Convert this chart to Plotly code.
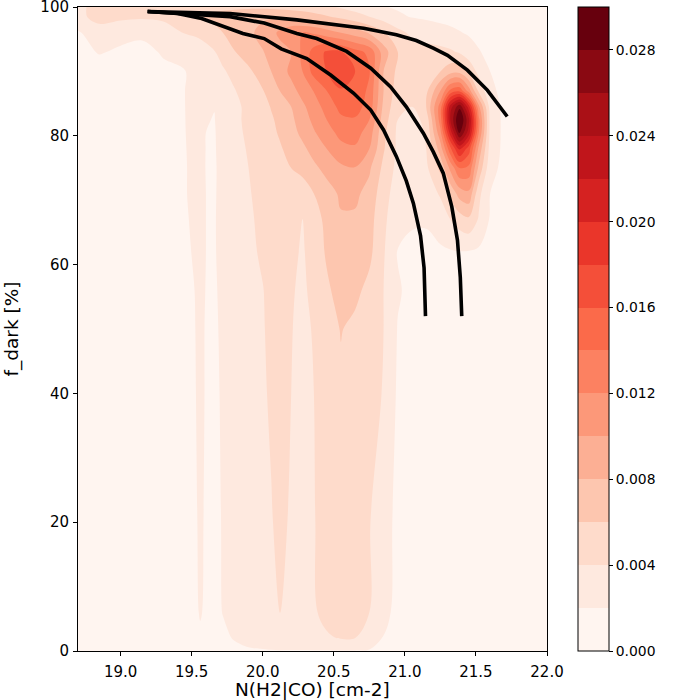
import numpy as np
import plotly.graph_objects as go

# grid columns, N(H2|CO) [cm-2]
X_NODES = [18.70, 18.85, 19.00, 19.15, 19.30, 19.45, 19.52, 19.56, 19.60, 19.66, 19.72, 19.80,
           19.90, 20.00, 20.06, 20.12, 20.20, 20.28, 20.36, 20.45, 20.55, 20.65, 20.75, 20.85,
           20.95, 21.05, 21.15, 21.25, 21.32, 21.385, 21.45, 21.52, 21.60, 21.70, 21.85, 22.00]
# grid rows, f_dark [%]
Y_NODES = [0, 2, 6, 20, 40, 50, 56, 62, 67, 71, 75, 78, 80.5, 82.5, 84.5, 87, 90, 93, 96, 98.5, 100]

# density, in units of 1e-3 (one row per Y_NODES entry)
DENSITY_MILLI = [
  [0.8, 0.8, 0.8, 0.9, 1.0, 1.1, 1.2, 1.3, 1.3, 1.3, 1.4, 1.6, 1.8, 1.85, 1.9, 1.9, 1.9, 1.9,
   1.9, 1.9, 1.9, 1.9, 1.8, 1.5, 1.1, 0.9, 0.8, 0.8, 0.8, 0.8, 0.8, 0.8, 0.8, 0.8, 0.8, 0.8],
  [0.8, 0.8, 0.9, 1.0, 1.1, 1.3, 1.5, 1.8, 1.6, 1.5, 1.7, 2.1, 2.5, 2.8, 3.0, 3.4, 3.1, 3.1,
   3.4, 3.8, 4.1, 4.0, 3.4, 1.9, 1.2, 0.9, 0.8, 0.8, 0.8, 0.8, 0.8, 0.8, 0.8, 0.8, 0.8, 0.8],
  [0.8, 0.9, 1.0, 1.1, 1.2, 1.4, 1.7, 2.1, 1.8, 1.6, 2.05, 2.6, 3.0, 3.3, 3.6, 4.05, 3.6, 3.4,
   3.8, 4.5, 4.9, 4.8, 4.0, 2.6, 1.4, 1.0, 0.9, 0.8, 0.8, 0.8, 0.8, 0.8, 0.8, 0.8, 0.8, 0.8],
  [0.9, 1.0, 1.1, 1.2, 1.3, 1.5, 1.8, 2.2, 1.85, 1.65, 2.1, 2.7, 3.1, 3.5, 3.9, 4.4, 3.8, 3.5,
   3.9, 4.8, 5.1, 5.0, 4.1, 2.8, 1.5, 1.1, 1.0, 0.9, 0.9, 0.9, 0.9, 0.9, 0.9, 0.9, 0.9, 0.9],
  [0.9, 1.0, 1.1, 1.2, 1.3, 1.6, 1.9, 2.3, 1.9, 1.7, 2.2, 2.8, 3.3, 3.8, 4.2, 4.6, 4.0, 3.6,
   4.0, 5.0, 5.6, 5.3, 4.6, 3.9, 1.7, 1.2, 1.0, 0.9, 0.9, 0.9, 0.9, 0.9, 0.9, 0.9, 0.9, 0.9],
  [0.9, 1.0, 1.1, 1.2, 1.35, 1.65, 1.95, 2.3, 1.9, 1.75, 2.3, 2.9, 3.4, 3.9, 4.3, 4.7, 4.05, 3.7,
   4.1, 5.1, 6.1, 5.5, 4.8, 4.0, 1.9, 1.3, 1.1, 1.0, 0.9, 0.9, 0.9, 0.9, 0.9, 0.9, 0.9, 0.9],
  [0.9, 1.0, 1.1, 1.2, 1.4, 1.7, 2.0, 2.4, 1.95, 1.8, 2.4, 3.0, 3.5, 3.95, 4.4, 4.8, 4.1, 3.8,
   4.3, 5.6, 6.9, 6.5, 5.4, 4.0, 2.2, 1.5, 1.3, 1.2, 1.2, 1.2, 1.2, 1.1, 1.0, 1.0, 0.9, 0.9],
  [0.9, 1.0, 1.1, 1.2, 1.5, 1.8, 2.1, 2.4, 2.0, 1.85, 2.6, 3.2, 3.7, 4.2, 4.6, 4.9, 4.3, 3.85,
   4.6, 6.3, 7.4, 7.3, 6.5, 4.2, 1.9, 1.6, 1.5, 1.7, 1.85, 1.95, 1.9, 1.7, 1.4, 1.1, 1.0, 0.9],
  [0.9, 1.0, 1.1, 1.25, 1.55, 1.85, 2.2, 2.5, 2.0, 1.85, 2.7, 3.3, 3.8, 4.3, 4.7, 5.0, 4.5, 3.95,
   5.0, 6.6, 7.8, 7.7, 6.8, 4.4, 2.7, 2.2, 2.2, 3.0, 4.0, 5.0, 5.6, 3.8, 1.8, 1.2, 1.0, 0.9],
  [0.9, 1.0, 1.1, 1.3, 1.5, 1.9, 2.3, 2.5, 2.0, 1.8, 2.7, 3.4, 3.9, 4.4, 4.8, 5.1, 4.8, 4.6,
   6.0, 7.2, 8.3, 8.4, 7.3, 4.8, 3.0, 2.6, 3.0, 4.2, 6.5, 8.8, 9.5, 4.5, 2.0, 1.3, 1.1, 1.0],
  [0.95, 1.0, 1.1, 1.3, 1.55, 1.9, 2.3, 2.5, 1.95, 1.8, 2.6, 3.5, 4.0, 4.6, 5.1, 5.5, 6.0, 6.8,
   7.6, 8.6, 9.6, 9.9, 8.3, 5.5, 3.4, 2.9, 3.6, 6.5, 10.5, 14.0, 13.5, 7.5, 2.6, 1.5, 1.2, 1.0],
  [0.95, 1.0, 1.1, 1.35, 1.6, 1.92, 2.35, 2.45, 1.97, 1.82, 2.8, 3.6, 4.1, 4.8, 5.3, 5.8, 6.6, 7.6,
   8.7, 10.0, 11.4, 11.7, 10.0, 6.2, 3.6, 3.0, 4.0, 9.0, 15.5, 20.5, 17.0, 9.5, 3.2, 1.5, 1.2, 1.0],
  [1.0, 1.0, 1.15, 1.4, 1.65, 1.95, 2.4, 2.4, 2.0, 1.85, 2.9, 3.7, 4.2, 5.0, 5.6, 6.2, 7.3, 8.5,
   9.8, 11.2, 12.6, 12.9, 11.0, 6.5, 3.6, 3.0, 4.2, 11.5, 21.0, 28.5, 23.0, 12.0, 3.4, 1.5, 1.2, 1.0],
  [1.0, 1.05, 1.2, 1.45, 1.7, 1.96, 2.45, 2.45, 2.1, 1.93, 3.0, 3.7, 4.3, 5.2, 5.8, 6.4, 7.6, 9.0,
   10.5, 12.0, 13.6, 13.8, 12.0, 7.0, 4.0, 3.2, 4.6, 13.0, 24.0, 30.5, 24.5, 12.5, 3.4, 1.5, 1.2, 1.0],
  [1.05, 1.1, 1.25, 1.5, 1.75, 1.97, 2.5, 2.5, 2.3, 2.05, 3.0, 3.6, 4.4, 5.4, 6.1, 6.8, 8.0, 9.6,
   11.0, 12.8, 14.6, 14.8, 13.2, 7.5, 4.5, 4.0, 6.0, 13.0, 23.0, 27.5, 21.0, 10.5, 3.2, 1.5, 1.2, 1.0],
  [1.1, 1.2, 1.35, 1.55, 1.8, 1.98, 2.5, 2.7, 2.8, 2.9, 3.3, 3.9, 4.8, 5.9, 7.0, 8.0, 9.3, 10.7,
   12.1, 14.0, 15.9, 15.6, 13.5, 8.0, 5.0, 4.2, 5.5, 10.0, 14.5, 15.5, 11.0, 5.5, 2.4, 1.5, 1.2, 1.0],
  [1.2, 1.3, 1.45, 1.6, 1.8, 1.95, 2.4, 2.6, 2.8, 3.2, 3.8, 4.5, 5.6, 7.0, 8.0, 9.0, 10.5, 12.0,
   14.8, 16.0, 16.8, 16.0, 14.2, 8.0, 5.5, 4.6, 4.8, 6.0, 7.2, 7.3, 5.5, 3.4, 2.0, 1.5, 1.2, 1.0],
  [1.5, 2.1, 1.8, 1.7, 2.1, 2.4, 2.8, 3.0, 3.3, 3.9, 4.6, 5.9, 7.0, 7.9, 8.6, 9.3, 10.0, 12.5,
   14.8, 16.3, 16.2, 14.8, 13.5, 9.0, 6.0, 5.0, 4.8, 4.6, 4.3, 3.8, 2.9, 2.1, 1.6, 1.3, 1.1, 1.0],
  [1.8, 3.0, 2.4, 2.2, 2.8, 4.1, 4.3, 4.5, 4.8, 5.3, 6.0, 6.8, 7.6, 8.6, 9.4, 10.4, 11.6, 12.0,
   11.8, 11.0, 10.0, 9.0, 7.8, 6.2, 4.6, 3.6, 3.1, 2.7, 2.4, 2.1, 1.8, 1.6, 1.4, 1.3, 1.1, 1.0],
  [3.4, 4.8, 4.5, 4.3, 4.5, 5.8, 6.2, 6.4, 6.5, 6.7, 6.9, 7.2, 7.5, 7.7, 7.8, 7.8, 7.6, 7.3,
   6.8, 6.2, 5.5, 4.8, 4.0, 3.1, 2.3, 1.9, 1.7, 1.5, 1.4, 1.3, 1.2, 1.1, 1.1, 1.0, 1.0, 1.0],
  [3.6, 4.6, 4.4, 4.2, 4.3, 4.8, 5.0, 5.1, 5.2, 5.3, 5.4, 5.5, 5.6, 5.6, 5.5, 5.4, 5.2, 5.0,
   4.7, 4.3, 3.8, 3.2, 2.6, 2.1, 1.8, 1.6, 1.4, 1.3, 1.2, 1.2, 1.1, 1.1, 1.0, 1.0, 1.0, 1.0],
]

# model tracks drawn over the density
TRACK_A_X = [19.19, 19.40, 19.57, 19.77, 19.86, 20.01, 20.13, 20.31, 20.48, 20.64, 20.76, 20.85,
             20.94, 21.01, 21.06, 21.11, 21.135, 21.145]
TRACK_A_Y = [99.3, 99.0, 98.2, 96.7, 95.9, 95.1, 93.5, 92.0, 89.4, 86.6, 84.0, 80.9,
             76.8, 73.0, 69.5, 64.5, 59.5, 52.0]
TRACK_B_X = [19.19, 19.57, 19.77, 20.01, 20.24, 20.38, 20.59, 20.76, 20.90, 21.01, 21.13, 21.20,
             21.27, 21.33, 21.37, 21.39, 21.40]
TRACK_B_Y = [99.3, 98.8, 98.5, 97.5, 95.9, 95.1, 93.1, 90.5, 87.6, 84.5, 80.4, 77.5,
             74.2, 69.0, 63.8, 58.0, 52.0]
TRACK_C_X = [19.19, 19.57, 19.77, 20.24, 20.71, 20.94, 21.08, 21.20, 21.30, 21.44, 21.58, 21.72]
TRACK_C_Y = [99.3, 99.1, 99.0, 98.0, 96.7, 95.7, 94.8, 93.6, 92.5, 90.2, 87.1, 83.0]

LEVEL_START = 0.002
LEVEL_END = 0.028
LEVEL_STEP = 0.002
CBAR_TICKS = [0.000, 0.004, 0.008, 0.012, 0.016, 0.020, 0.024, 0.028]
X_TICKS = [19.0, 19.5, 20.0, 20.5, 21.0, 21.5, 22.0]
Y_TICKS = [0, 20, 40, 60, 80, 100]

# matplotlib 'Reds' sampled at the 15 filled bands
REDS = ['#fff5f0', '#fee9df', '#fedbcb', '#fdc6af', '#fcaf94', '#fc9879', '#fc8161', '#fb6a4a',
        '#f44f39', '#ea362a', '#d52221', '#c0151b', '#aa1016', '#8a0912', '#67000d']

FONT = 'DejaVu Sans'


def build_density():
  '''Filled contour of the density grid'''
  z = np.array(DENSITY_MILLI) * 1e-3
  scale = [[k / (len(REDS) - 1), c] for k, c in enumerate(REDS)]
  return go.Contour(
      x=X_NODES, y=Y_NODES, z=z, colorscale=scale, autocontour=False,
      zmin=0.0, zmax=0.030,
      contours=dict(start=LEVEL_START, end=LEVEL_END, size=LEVEL_STEP, coloring='fill', showlines=False),
      line=dict(width=0, smoothing=1),
      hoverinfo='skip',
      colorbar=dict(
          x=1.066, xanchor='left', xpad=0, y=0.5, yanchor='middle', ypad=0, len=1.0,
          thickness=31, outlinewidth=1, outlinecolor='black',
          tickvals=CBAR_TICKS, tickformat='.3f', ticks='outside', ticklen=4, tickwidth=1,
          tickcolor='black', tickfont=dict(family=FONT, size=13.9, color='black')))


def build_tracks():
  '''The three black model tracks'''
  out = []
  for xs, ys in ((TRACK_A_X, TRACK_A_Y), (TRACK_B_X, TRACK_B_Y), (TRACK_C_X, TRACK_C_Y)):
    out.append(go.Scatter(x=xs, y=ys, mode='lines', line=dict(color='black', width=3.6),
                          showlegend=False, hoverinfo='skip'))
  return out


def main():
  fig = go.Figure([build_density()] + build_tracks())
  axis = dict(ticks='outside', ticklen=4, tickwidth=1, tickcolor='black', showline=True,
              linecolor='black', linewidth=1, mirror=True, showgrid=False, zeroline=False,
              ticklabeloverflow='allow', tickfont=dict(family=FONT, size=15, color='black'))
  fig.update_xaxes(range=[18.7, 22.0], tickvals=X_TICKS, tickformat='.1f', ticklabelstandoff=3, **axis)
  fig.update_yaxes(range=[0, 100], tickvals=Y_TICKS, ticklabelstandoff=1,
                   title=dict(text='f_dark [%]', font=dict(family=FONT, size=18.5, color='black'), standoff=16),
                   **axis)
  # x title as a paper annotation so it sits just under the tick labels
  fig.add_annotation(text='N(H2|CO) [cm-2]', xref='paper', yref='paper', x=0.5, y=0,
                     xanchor='center', yanchor='middle', yshift=-38, showarrow=False,
                     font=dict(family=FONT, size=18.5, color='black'))
  fig.update_layout(width=700, height=700, margin=dict(l=78, r=153, t=7, b=49, autoexpand=False),
                    paper_bgcolor='white', plot_bgcolor='white', showlegend=False,
                    font=dict(family=FONT, color='black'))
  # the page's default body margin would shift the 700x700 figure
  fig.write_html('out.html', config={'displayModeBar': False},
                 post_script="document.body.style.margin='0';")


if __name__ == '__main__':
  main()
